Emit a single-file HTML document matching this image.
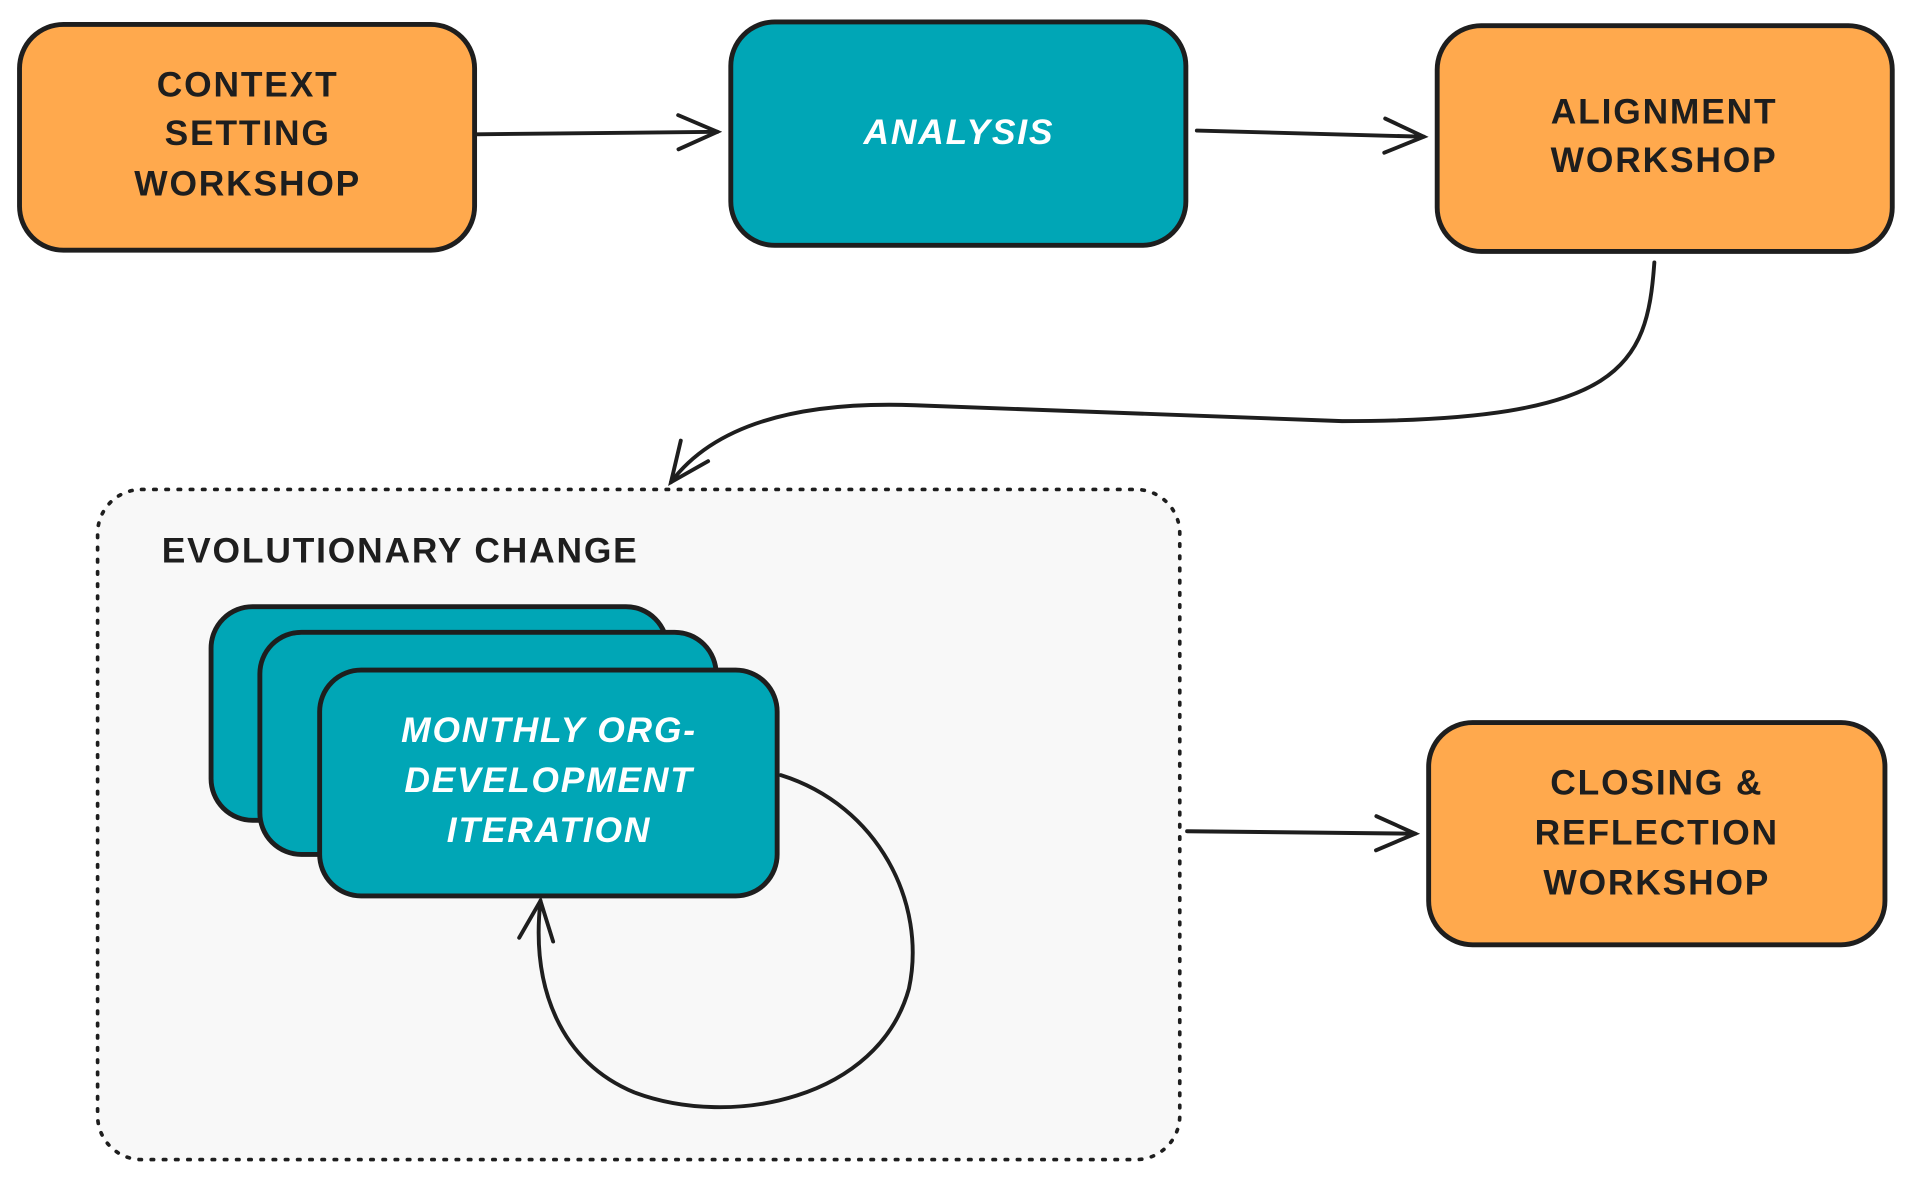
<!DOCTYPE html>
<html><head><meta charset="utf-8"><style>
html,body{margin:0;padding:0;background:#fff;}
svg{display:block;}
text{font-family:"Liberation Sans",sans-serif;font-weight:bold;font-size:29px;letter-spacing:1.5px;text-anchor:middle;}
</style></head><body>
<svg width="1913" height="1184" viewBox="0 0 1568 970" preserveAspectRatio="none" xmlns="http://www.w3.org/2000/svg">
<defs>
<marker id="ah" markerWidth="40" markerHeight="40" refX="36" refY="20" orient="auto" markerUnits="userSpaceOnUse">
<path d="M4 6 L36 20 L4 34" fill="none" stroke="#1e1e1e" stroke-width="3.2" stroke-linecap="round"/>
</marker>
</defs>
<g stroke="#1e1e1e" stroke-width="4">
<rect x="16" y="20" width="373" height="185" rx="36" fill="#ffa94d"/>
<rect x="599" y="18" width="373" height="183" rx="36" fill="#00a6b6"/>
<rect x="1178" y="21" width="373" height="185" rx="36" fill="#ffa94d"/>
<rect x="1171" y="592" width="374" height="182" rx="36" fill="#ffa94d"/>
<rect x="80" y="401" width="887" height="549" rx="36" fill="#f8f8f8" stroke-width="3" stroke-dasharray="2 8" stroke-linecap="round"/>
<rect x="173" y="497" width="374" height="175" rx="34" fill="#00a6b6"/>
<rect x="213" y="518" width="374" height="182" rx="34" fill="#00a6b6"/>
<rect x="262" y="549" width="375" height="185" rx="34" fill="#00a6b6"/>
</g>
<g fill="none" stroke="#1e1e1e" stroke-width="3.2" stroke-linecap="round">
<path d="M390 110 L588 108" marker-end="url(#ah)"/>
<path d="M981 107 L1167 112" marker-end="url(#ah)"/>
<path d="M1356 215 C1350 300 1330 345 1100 345 L750 332 C640 328 580 355 550 395" marker-end="url(#ah)"/>
<path d="M973 681 L1160 683" marker-end="url(#ah)"/>
<path d="M640 635 C720 660 760 740 745 810 C720 900 600 925 520 895 C460 870 435 810 443 738" marker-end="url(#ah)"/>
</g>
<g fill="#1e1e1e">
<text x="203" y="79">CONTEXT</text>
<text x="203" y="119">SETTING</text>
<text x="203" y="160">WORKSHOP</text>
<text x="1364" y="101">ALIGNMENT</text>
<text x="1364" y="141">WORKSHOP</text>
<text x="1358" y="651">CLOSING &amp;</text>
<text x="1358" y="692">REFLECTION</text>
<text x="1358" y="733">WORKSHOP</text>
<text x="328" y="461">EVOLUTIONARY CHANGE</text>
</g>
<g fill="#ffffff" font-style="italic">
<text x="786" y="118">ANALYSIS</text>
<text x="450" y="608">MONTHLY ORG-</text>
<text x="450" y="649">DEVELOPMENT</text>
<text x="450" y="690">ITERATION</text>
</g>
</svg>
</body></html>
